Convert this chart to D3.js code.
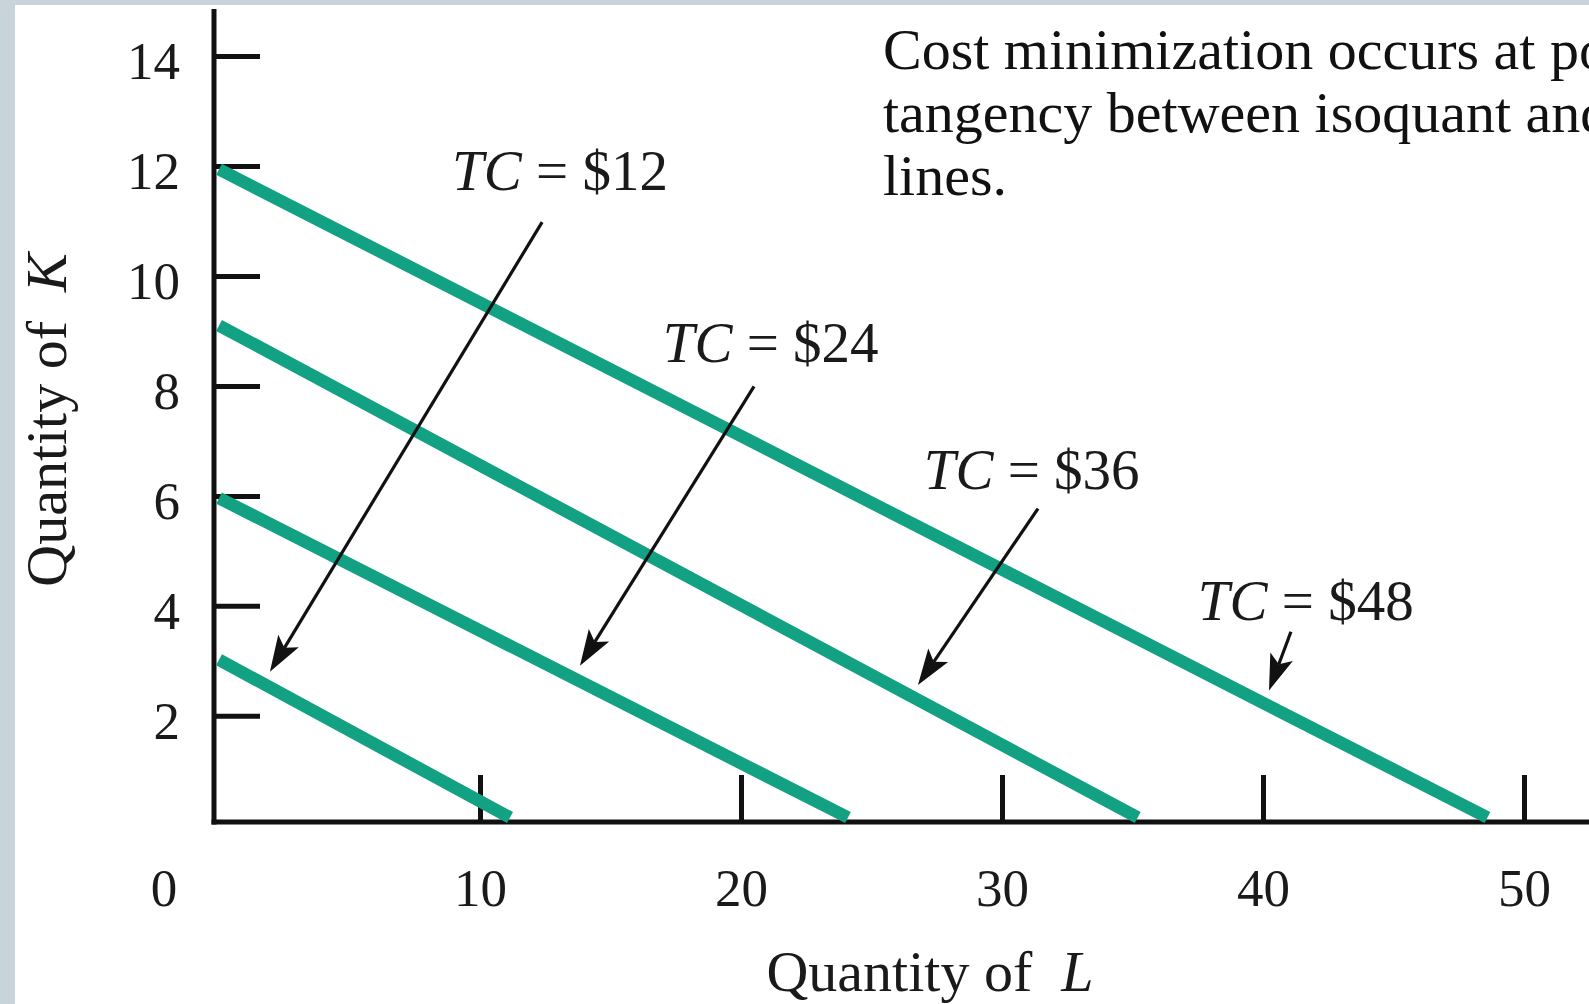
<!DOCTYPE html>
<html>
<head>
<meta charset="utf-8">
<script src="https://cdn.jsdelivr.net/npm/d3@7"></script>
<style>
  html, body { margin: 0; padding: 0; background: #ffffff; overflow: hidden; }
  svg { display: block; }
</style>
</head>
<body>
<svg id="chart" width="1589" height="1004"></svg>
<script>
// ---- data ----
const xTicks = [10, 20, 30, 40, 50];
const yTicks = [2, 4, 6, 8, 10, 12, 14];
const costLabels = ["$12", "$24", "$36", "$48"];
// isocost lines: start on K axis (L=0), end just above L axis
const kStart = [3.02, 5.96, 9.1, 11.94];
const lEnd = [11.15, 24.1, 35.2, 48.6];
const kEnd = [0.15, 0.15, 0.15, 0.15];
// annotation arrows (data units): tail -> tip
const arrowTailL = [12.38, 20.5, 31.38, 41.07];
const arrowTailK = [10.98, 7.99, 5.77, 3.53];
const arrowTipL = [1.95, 13.83, 26.78, 40.23];
const arrowTipK = [2.80, 2.91, 2.56, 2.46];
// label anchor (data units, left/baseline)
const labelL = [8.93, 17.0, 27.0, 37.5];
const labelK = [11.56, 8.44, 6.12, 3.75];
const noteLines = ["Cost minimization occurs at points of", "tangency between isoquant and isocost", "lines."];

// ---- layout ----
const svg = d3.select("#chart");
const W = 1589, H = 1004;
const axisX = 214, axisY = 822;
const x = d3.scaleLinear().domain([0, 50]).range([219, 1524]);
const y = d3.scaleLinear().domain([0, 14]).range([825.8, 56]);
const serif = "'Liberation Serif', 'Times New Roman', serif";
const teal = "#13a184";

// background + border strips
svg.append("rect").attr("x", 0).attr("y", 0).attr("width", W).attr("height", H).attr("fill", "#ffffff");
svg.append("rect").attr("x", 0).attr("y", 0).attr("width", W).attr("height", 5).attr("fill", "#c9d3da");
svg.append("rect").attr("x", 0).attr("y", 0).attr("width", 15).attr("height", H).attr("fill", "#c9d3da");

// axes via d3 axis generators (ticks pointing inward)
const yAxis = d3.axisLeft(y).tickValues(yTicks).tickSize(-46).tickSizeOuter(0).tickPadding(34);
const gy = svg.append("g").attr("transform", `translate(${axisX},0)`).call(yAxis);
gy.select(".domain").remove();
gy.selectAll(".tick line").attr("stroke", "#111").attr("stroke-width", 5);
gy.selectAll(".tick text").attr("font-family", serif).attr("font-size", 53).attr("fill", "#1a1a1a")
  .attr("dy", "0.42em");

const xAxis = d3.axisBottom(x).tickValues(xTicks).tickSize(-47).tickSizeOuter(0).tickPadding(46);
const gx = svg.append("g").attr("transform", `translate(0,${axisY})`).call(xAxis);
gx.select(".domain").remove();
gx.selectAll(".tick line").attr("stroke", "#111").attr("stroke-width", 5);
gx.selectAll(".tick text").attr("font-family", serif).attr("font-size", 53).attr("fill", "#1a1a1a")
  .attr("dy", "0.71em");

// origin label
svg.append("text").attr("x", 164).attr("y", axisY + 46).attr("dy", "0.71em")
  .attr("text-anchor", "middle").attr("font-family", serif).attr("font-size", 53).attr("fill", "#1a1a1a").text("0");

// axis lines
svg.append("line").attr("x1", axisX).attr("x2", axisX).attr("y1", 9).attr("y2", axisY + 2.5)
  .attr("stroke", "#111").attr("stroke-width", 5);
svg.append("line").attr("x1", axisX - 2.5).attr("x2", W).attr("y1", axisY).attr("y2", axisY)
  .attr("stroke", "#111").attr("stroke-width", 5);

// isocost lines
const lines = kStart.map((k, i) => [[0, k], [lEnd[i], kEnd[i]]]);
const lineGen = d3.line().x(d => x(d[0])).y(d => y(d[1]));
svg.append("g").selectAll("path").data(lines).join("path")
  .attr("d", lineGen).attr("fill", "none").attr("stroke", teal).attr("stroke-width", 12.5)
  .attr("stroke-linecap", "butt");

// arrows
const headLen = 36, headW = 24;
costLabels.forEach((lab, i) => {
  const x1 = x(arrowTailL[i]), y1 = y(arrowTailK[i]);
  const x2 = x(arrowTipL[i]), y2 = y(arrowTipK[i]);
  const dx = x2 - x1, dy = y2 - y1, len = Math.hypot(dx, dy);
  const ux = dx / len, uy = dy / len, px = -uy, py = ux;
  const bx = x2 - ux * headLen, by = y2 - uy * headLen;
  const nx = x2 - ux * headLen * 0.78, ny = y2 - uy * headLen * 0.78;
  svg.append("line").attr("x1", x1).attr("y1", y1).attr("x2", nx).attr("y2", ny)
    .attr("stroke", "#111").attr("stroke-width", 3.2);
  svg.append("path")
    .attr("d", `M${x2},${y2} L${bx + px * headW / 2},${by + py * headW / 2} L${nx},${ny} L${bx - px * headW / 2},${by - py * headW / 2} Z`)
    .attr("fill", "#111");
  const t = svg.append("text").attr("x", x(labelL[i])).attr("y", y(labelK[i]))
    .attr("font-family", serif).attr("font-size", 57).attr("fill", "#1a1a1a");
  t.append("tspan").attr("font-style", "italic").text("TC");
  t.append("tspan").text(" = " + lab);
});

// axis titles
const xt = svg.append("text").attr("x", 930).attr("y", 991).attr("text-anchor", "middle")
  .attr("font-family", serif).attr("font-size", 58).attr("fill", "#1a1a1a");
xt.append("tspan").text("Quantity of\u00a0 ");
xt.append("tspan").attr("font-style", "italic").text("L");

const yt = svg.append("text").attr("transform", "translate(66,420) rotate(-90)").attr("text-anchor", "middle")
  .attr("font-family", serif).attr("font-size", 58).attr("fill", "#1a1a1a");
yt.append("tspan").text("Quantity of\u00a0 ");
yt.append("tspan").attr("font-style", "italic").text("K");

// note text (runs past the right edge, as in the reference)
svg.append("g").selectAll("text").data(noteLines).join("text")
  .attr("x", 883).attr("y", (d, i) => 69 + i * 63)
  .attr("font-family", serif).attr("font-size", 58).attr("fill", "#111").text(d => d);
</script>
</body>
</html>
